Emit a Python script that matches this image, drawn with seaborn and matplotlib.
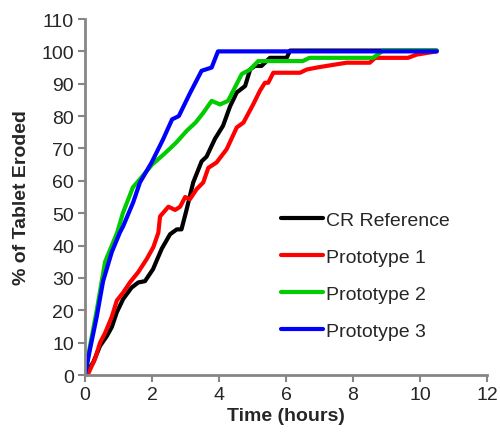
import matplotlib
matplotlib.use("Agg")
import matplotlib.pyplot as plt
import seaborn as sns
import pandas as pd

# ---- data ----
series_names = ["CR Reference", "Prototype 1", "Prototype 2", "Prototype 3"]
colors = ["#000000", "#ff0000", "#00cc00", "#0000ff"]

cr_t = [0, 0.25, 0.45, 0.65, 0.8, 0.95, 1.14, 1.39, 1.59, 1.79, 2.03, 2.29, 2.54, 2.74, 2.88,
        3.03, 3.23, 3.48, 3.63, 3.88, 4.12, 4.33, 4.53, 4.78, 4.93, 5.07, 5.27, 5.42, 5.52,
        6.02, 6.12, 10.5]
cr_v = [0, 4, 9, 12, 14.8, 19.4, 23.5, 27, 28.6, 29, 32.7, 39, 43.5, 45, 45,
        51, 59.5, 66, 67.5, 73, 77, 83, 87.3, 89.3, 94.4, 95.5, 95.5, 97, 98,
        98, 100.25, 100.25]

p1_t = [0, 0.1, 0.3, 0.45, 0.6, 0.8, 0.95, 1.14, 1.34, 1.59, 1.84, 2.04, 2.19, 2.24, 2.49,
        2.69, 2.84, 2.99, 3.13, 3.33, 3.53, 3.68, 3.93, 4.23, 4.53, 4.73, 5.02, 5.22, 5.37,
        5.47, 5.62, 6.42, 6.62, 6.92, 7.21, 7.51, 7.81, 8.5, 8.66, 9.64, 9.9, 10.5]
p1_v = [0, 0.5, 5, 10, 13, 18, 23, 25.5, 28.6, 31.8, 35.8, 39.5, 44, 49, 52,
        51, 52, 55, 54.3, 57.4, 59.5, 64, 65.7, 69.8, 76.5, 78, 83.6, 87.8, 90.3,
        90.3, 93.4, 93.4, 94.4, 95, 95.5, 96, 96.5, 96.5, 98, 98, 99, 100]

p2_t = [0, 0.15, 0.35, 0.6, 0.96, 1.13, 1.43, 1.64, 2.0, 2.33, 2.54, 2.74, 3.04, 3.3, 3.53,
        3.78, 4.03, 4.27, 4.68, 4.93, 5.17, 5.43, 6.5, 6.7, 8.6, 8.9, 10.5]
p2_v = [0, 9, 20, 35, 44, 50, 58, 60.5, 65, 68, 70, 72, 75.5, 78, 81,
        84.7, 83.6, 84.7, 93, 94.4, 97, 97, 97, 98, 98, 100.25, 100.25]

p3_t = [0, 0.15, 0.35, 0.54, 0.8, 1.04, 1.14, 1.44, 1.64, 1.99, 2.33, 2.6, 2.8, 3.13, 3.48,
        3.78, 3.97, 10.5]
p3_v = [0, 8, 18, 29, 38, 44, 46, 53.4, 59.5, 65.7, 72.8, 79, 80, 87, 94,
        95, 100, 100]

x_ticks = [0, 2, 4, 6, 8, 10, 12]
y_ticks = list(range(0, 111, 10))

frames = []
for name, t, v in zip(series_names, [cr_t, p1_t, p2_t, p3_t], [cr_v, p1_v, p2_v, p3_v]):
    frames.append(pd.DataFrame({"Time": t, "Eroded": v, "Series": name}))
df = pd.concat(frames, ignore_index=True)

# ---- plot ----
sns.set_theme(style="white")
plt.rcParams["font.family"] = ["Liberation Sans", "DejaVu Sans"]

fig = plt.figure(figsize=(5.0, 4.35), dpi=100)
ax = fig.add_axes([0.17, 0.1356, 0.804, 0.8184])

sns.lineplot(data=df, x="Time", y="Eroded", hue="Series", hue_order=series_names,
             palette=dict(zip(series_names, colors)), estimator=None, sort=False,
             linewidth=3.0, ax=ax)

ax.set_xlim(0, 12)
ax.set_ylim(0, 110)
ax.set_xticks(x_ticks)
ax.set_yticks(y_ticks)
ax.tick_params(axis="both", which="major", labelsize=14, direction="out",
               length=5, width=1.5, color="#868686", pad=3, left=True, bottom=True)
for side in ["top", "right"]:
    ax.spines[side].set_visible(False)
for side in ["left", "bottom"]:
    ax.spines[side].set_color("#868686")
    ax.spines[side].set_linewidth(2)

ax.set_xlabel("Time (hours)", fontsize=14, fontweight="bold", labelpad=3)
ax.set_ylabel("% of Tablet Eroded", fontsize=14, fontweight="bold", labelpad=8)

leg = ax.legend(loc="upper left", bbox_to_anchor=(0.445, 0.51), frameon=False,
                fontsize=14, handlelength=2.15, handletextpad=0.15, labelspacing=1.0)
for line in leg.get_lines():
    line.set_linewidth(3.0)

fig.savefig("out.png", dpi=100, facecolor="white")
